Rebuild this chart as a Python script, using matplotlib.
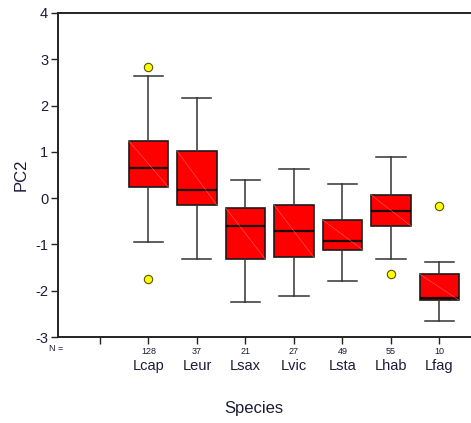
import matplotlib.pyplot as plt

plt.rcParams['font.family'] = ['Liberation Sans', 'DejaVu Sans']

# Box plot summary of PC2 by species
species = ['Lcap', 'Leur', 'Lsax', 'Lvic', 'Lsta', 'Lhab', 'Lfag']
n_counts = [128, 37, 21, 27, 49, 55, 10]
whisker_lo = [-0.95, -1.32, -2.25, -2.12, -1.80, -1.31, -2.66]
q1 = [0.24, -0.15, -1.32, -1.28, -1.11, -0.60, -2.21]
median = [0.66, 0.17, -0.60, -0.70, -0.92, -0.27, -2.16]
q3 = [1.24, 1.02, -0.21, -0.15, -0.47, 0.07, -1.64]
whisker_hi = [2.63, 2.17, 0.40, 0.63, 0.30, 0.88, -1.38]
outliers = [[2.83, -1.74], [], [], [], [], [-1.64], [-0.16]]

text_col = '#1c1c38'
positions = list(range(1, len(species) + 1))

stats = []
for i, name in enumerate(species):
    stats.append({'label': name, 'whislo': whisker_lo[i], 'q1': q1[i],
                  'med': median[i], 'q3': q3[i], 'whishi': whisker_hi[i],
                  'fliers': outliers[i]})

fig = plt.figure(figsize=(4.71, 4.23), dpi=100)
ax = fig.add_axes([0.123, 0.2033, 0.877, 0.7660])

bp = ax.bxp(stats, positions=positions, widths=0.82, patch_artist=True,
            showfliers=True,
            boxprops=dict(facecolor='#ff0000', edgecolor='#1a1a1a', linewidth=1.2),
            medianprops=dict(color='#1a0000', linewidth=1.6),
            whiskerprops=dict(color='#333333', linewidth=1.1),
            capprops=dict(color='#333333', linewidth=1.1),
            flierprops=dict(marker='o', markerfacecolor='#ffff00',
                            markeredgecolor='#555500', markersize=6,
                            markeredgewidth=0.8))
for cap in bp['caps']:
    x0, x1 = cap.get_xdata()
    c = (x0 + x1) / 2
    cap.set_xdata([c - 0.3, c + 0.3])

# faint diagonal sheen across each box
for i, p in enumerate(positions):
    ax.plot([p - 0.41, p + 0.41], [q3[i], q1[i]], color='#ff7070',
            linewidth=0.6, alpha=0.6, zorder=3)

ax.set_xlim(-0.866, 7.65)
ax.set_ylim(-3, 4)
ax.set_yticks(range(-3, 5))
ax.set_yticklabels([str(v) for v in range(-3, 5)], color=text_col, fontsize=10.5)
ax.set_xticks([0] + positions)
ax.set_xticklabels([''] + [str(n) for n in n_counts], fontsize=6.5,
                   color=text_col, fontstretch='condensed')
ax.tick_params(axis='both', direction='out', length=5, width=1, pad=2,
               colors='#222222')
for lab in ax.get_xticklabels() + ax.get_yticklabels():
    lab.set_color(text_col)

ax.spines['right'].set_visible(False)
for s in ['left', 'bottom', 'top']:
    ax.spines[s].set_linewidth(1.4)
    ax.spines[s].set_color('#222222')

for p, name in zip(positions, species):
    ax.text(p, -3.62, name, ha='center', va='center', fontsize=10.5,
            color=text_col)
ax.text(-1.05, -3.25, 'N =', ha='left', va='center', fontsize=6.5, color=text_col)

ax.set_ylabel('PC2', fontsize=12, color=text_col, labelpad=5)
fig.text(0.54, 0.035, 'Species', ha='center', va='center', fontsize=12,
         color=text_col)

fig.savefig('out.png', dpi=100)
